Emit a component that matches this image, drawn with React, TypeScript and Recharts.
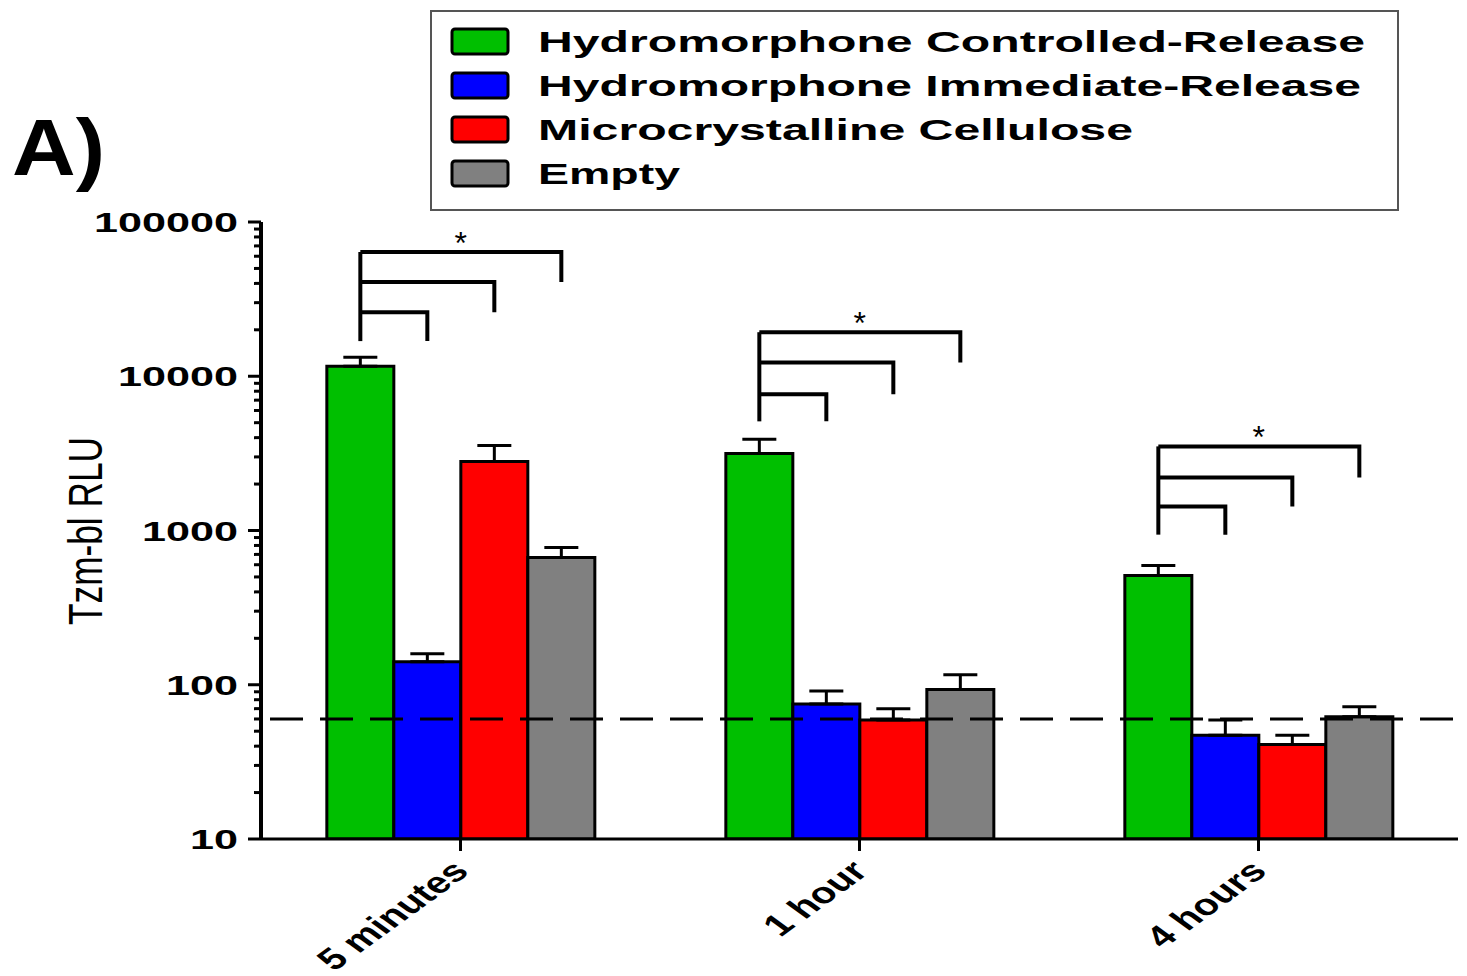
import { BarChart, Bar, XAxis, YAxis, ErrorBar, ReferenceLine, Legend } from 'recharts'

const timepoints = ['5 minutes', '1 hour', '4 hours']
const seriesNames = [
  'Hydromorphone Controlled-Release',
  'Hydromorphone Immediate-Release',
  'Microcrystalline Cellulose',
  'Empty',
]
const seriesKeys = ['cr', 'ir', 'mcc', 'empty']
const seriesColors = ['#00bf00', '#0000ff', '#ff0000', '#808080']

// Tzm-bl RLU, mean and upper error (SEM) per timepoint
const controlledRelease = [11600, 3160, 510]
const controlledReleaseErr = [1700, 740, 83]
const immediateRelease = [141, 75, 47]
const immediateReleaseErr = [18, 16, 12]
const cellulose = [2800, 59, 41]
const celluloseErr = [760, 11, 6]
const empty = [668, 93, 62]
const emptyErr = [108, 23, 10]

const detectionLimit = 60
const decadeTicks = [10, 100, 1000, 10000, 100000]
const minorSteps = [2, 3, 4, 5, 6, 7, 8, 9]

// significance bracket heights (RLU), lowest to highest, per timepoint
const bracketLevels = [
  [16900, 26000, 40800, 63900],
  [5100, 7640, 12300, 19300],
  [940, 1430, 2210, 3510],
]

const FONT = '"Liberation Sans", Arial, sans-serif'

const yTicks = decadeTicks.flatMap((d, i) =>
  i < decadeTicks.length - 1 ? [d, ...minorSteps.map((m) => d * m)] : [d]
)

const data = timepoints.map((time, i) => ({
  time,
  cr: controlledRelease[i],
  crErr: [0, controlledReleaseErr[i]],
  ir: immediateRelease[i],
  irErr: [0, immediateReleaseErr[i]],
  mcc: cellulose[i],
  mccErr: [0, celluloseErr[i]],
  empty: empty[i],
  emptyErr: [0, emptyErr[i]],
}))

const YTick = (props: any) => {
  const { x, y, payload } = props
  const v = payload.value
  const major = decadeTicks.includes(v)
  const label = String(v)
  return (
    <g>
      <line x1={x - (major ? 13 : 7)} x2={x} y1={y} y2={y} stroke="#000" strokeWidth={3} />
      {major && (
        <text
          x={x - 23}
          y={y + 10}
          textAnchor="end"
          fontFamily={FONT}
          fontWeight="bold"
          fontSize={28}
          textLength={label.length * 24}
          lengthAdjust="spacingAndGlyphs"
          fill="#000"
        >
          {label}
        </text>
      )}
    </g>
  )
}

const XTick = (props: any) => {
  const { x, y, payload } = props
  return (
    <g transform={`translate(${x + 10},${y + 20}) scale(1.376,1) rotate(-45)`}>
      <text textAnchor="end" fontFamily={FONT} fontWeight="bold" fontSize={30} fill="#000">
        {payload.value}
      </text>
    </g>
  )
}

// brackets drawn from the green bar's geometry (base of bar = 10 RLU)
const renderBrackets = (props: any) => {
  const { index } = props
  const vb = props.viewBox && props.viewBox.width != null ? props.viewBox : props
  const { x, y, width, height } = vb
  if (index == null || !height) return null
  const base = y + height
  const pxPerDecade = height / Math.log10(controlledRelease[index] / decadeTicks[0])
  const toY = (v: number) => base - pxPerDecade * Math.log10(v / decadeTicks[0])
  const lv = bracketLevels[index].map(toY)
  const cx = x + width / 2
  const paths = [`M${cx},${lv[0]} V${lv[3]}`]
  for (let k = 1; k <= 3; k++) {
    paths.push(`M${cx},${lv[k]} H${cx + k * width} V${lv[k - 1]}`)
  }
  return (
    <g>
      {paths.map((d) => (
        <path key={d} d={d} fill="none" stroke="#000" strokeWidth={4} />
      ))}
      <text
        x={cx + 1.5 * width}
        y={lv[3] + 2}
        textAnchor="middle"
        fontFamily={FONT}
        fontSize={32}
        fill="#000"
      >
        *
      </text>
    </g>
  )
}

const legendTextWidths = [827, 823, 595, 142]

const LegendBox = () => (
  <svg width={970} height={202}>
    <rect x={1} y={1} width={967} height={199} fill="#fff" stroke="#555" strokeWidth={2} />
    {seriesNames.map((name, i) => {
      const cy = 31 + i * 44
      return (
        <g key={name}>
          <rect x={22} y={cy - 12} width={56} height={25} rx={3} fill={seriesColors[i]} stroke="#000" strokeWidth={3} />
          <text
            x={108}
            y={cy + 11}
            fontFamily={FONT}
            fontWeight="bold"
            fontSize={30}
            textLength={legendTextWidths[i]}
            lengthAdjust="spacingAndGlyphs"
            fill="#000"
          >
            {name}
          </text>
        </g>
      )
    })}
  </svg>
)

export default function App() {
  return (
    <div style={{ position: 'absolute', left: 0, top: 0, width: 1467, height: 976, background: '#fff' }}>
      <BarChart
        width={1467}
        height={976}
        data={data}
        margin={{ top: 222, right: 9, bottom: 0, left: 101 }}
        barGap={0}
        barCategoryGap="16.5%"
      >
        <XAxis
          dataKey="time"
          interval={0}
          height={137}
          axisLine={{ stroke: '#000', strokeWidth: 3 }}
          tickLine={{ stroke: '#000', strokeWidth: 3 }}
          tickSize={12}
          tick={<XTick />}
        />
        <YAxis
          type="number"
          scale="log"
          domain={[10, 100000]}
          allowDataOverflow
          ticks={yTicks}
          interval={0}
          width={160}
          tickSize={0}
          tickMargin={0}
          tickLine={false}
          axisLine={{ stroke: '#000', strokeWidth: 4 }}
          tick={<YTick />}
        />
        <Legend
          layout="vertical"
          align="center"
          verticalAlign="middle"
          wrapperStyle={{ left: 430, top: 10, width: 970, height: 202 }}
          content={<LegendBox />}
        />
        {seriesKeys.map((key, i) => (
          <Bar
            key={key}
            dataKey={key}
            name={seriesNames[i]}
            fill={seriesColors[i]}
            stroke="#000"
            strokeWidth={3}
            isAnimationActive={false}
            label={i === 0 ? renderBrackets : undefined}
          >
            <ErrorBar dataKey={`${key}Err`} direction="y" width={17} stroke="#000" strokeWidth={3} />
          </Bar>
        ))}
        <ReferenceLine
          y={detectionLimit}
          stroke="#000"
          strokeWidth={3}
          strokeDasharray="33 17"
          strokeDashoffset={41}
        />
      </BarChart>
      <svg style={{ position: 'absolute', left: 0, top: 0 }} width={140} height={700}>
        <text x={12} y={175} fontFamily={FONT} fontWeight="bold" fontSize={80} textLength={93} lengthAdjust="spacingAndGlyphs" fill="#000">
          A)
        </text>
        <text
          transform="translate(102,531) scale(1.7,1) rotate(-90)"
          textAnchor="middle"
          fontFamily={FONT}
          fontSize={28}
          textLength={188}
          lengthAdjust="spacingAndGlyphs"
          fill="#000"
        >
          Tzm-bl RLU
        </text>
      </svg>
    </div>
  )
}
